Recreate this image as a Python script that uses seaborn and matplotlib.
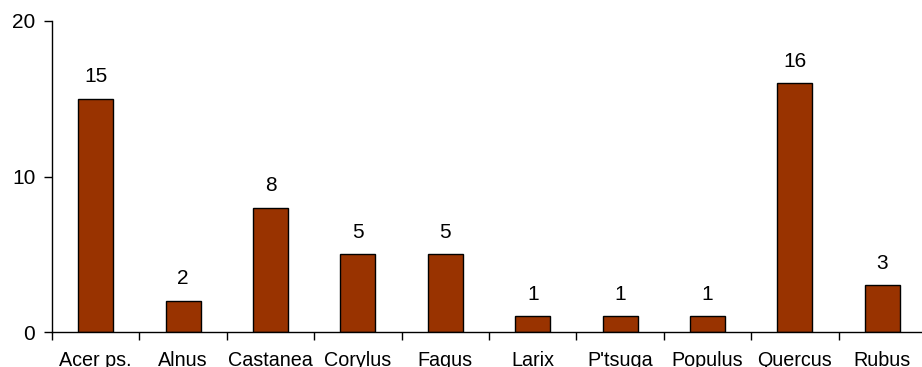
import matplotlib
matplotlib.use("Agg")
import matplotlib.pyplot as plt
import seaborn as sns
import pandas as pd

species = ["Acer ps.", "Alnus", "Castanea", "Corylus", "Fagus",
           "Larix", "P'tsuga", "Populus", "Quercus", "Rubus"]
counts = [15, 2, 8, 5, 5, 1, 1, 1, 16, 3]
y_ticks = [0, 10, 20]

sns.set_theme(style="white", rc={"text.color": "black",
                                 "xtick.color": "black",
                                 "ytick.color": "black",
                                 "axes.labelcolor": "black"})
plt.rcParams["font.family"] = ["Liberation Sans", "DejaVu Sans"]

df = pd.DataFrame({"species": species, "count": counts})

fig = plt.figure(figsize=(9.22, 3.67), dpi=100)
ax = fig.add_axes([52 / 922, 1 - 332 / 367, 1 - 52 / 922, (332 - 21) / 367])

sns.barplot(data=df, x="species", y="count", color="#993300", width=0.4,
            edgecolor="black", linewidth=1.0, saturation=1, ax=ax)

for i, v in enumerate(counts):
    ax.annotate(str(v), (i, v), xytext=(0, 9), textcoords="offset points",
                ha="center", va="bottom", fontsize=15, color="black")

ax.set_ylim(0, 20)
ax.set_xlim(-0.5, -0.5 + (922 - 52) / 87.4)
ax.set_yticks(y_ticks)
ax.set_yticklabels([str(t) for t in y_ticks], fontsize=15)
ax.set_xticks(range(len(species)))
ax.set_xticklabels(species, fontsize=14.2)
ax.set_xlabel("")
ax.set_ylabel("")

# category separator ticks on the x axis
ax.set_xticks([i - 0.5 for i in range(len(species))], minor=True)
ax.tick_params(axis="x", which="major", length=0, pad=14, labelcolor="black")
ax.tick_params(axis="x", which="minor", length=6, width=1, color="black",
               direction="out", bottom=True)
ax.tick_params(axis="y", which="major", length=6, width=1, color="black",
               direction="out", left=True, pad=6, labelcolor="black")

for side in ["top", "right"]:
    ax.spines[side].set_visible(False)
for side in ["left", "bottom"]:
    ax.spines[side].set_color("black")
    ax.spines[side].set_linewidth(1.0)
ax.grid(False)

fig.savefig("out.png", dpi=100)
